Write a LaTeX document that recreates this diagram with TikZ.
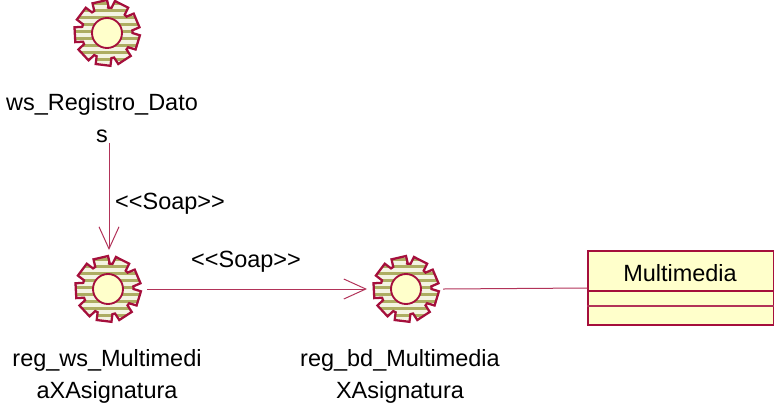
\documentclass[tikz,border=0pt]{standalone}
\usepackage{fontspec}
\setmainfont{Liberation Sans}
\usetikzlibrary{arrows.meta,calc}
\definecolor{umlred}{HTML}{A50F3C}
\definecolor{umlcream}{HTML}{FFFFCB}
\definecolor{umlolive}{HTML}{ADAD62}
\definecolor{stripelight}{HTML}{F4F4E2}
\newcommand{\gearoutline}{
  (90:25.5)
  \foreach \a in {103,143,183,223,263,303,343,23,63}{
    -- (\a-17:25.5) -- (\a-13:33) -- (\a+13:33) -- (\a+17:25.5)
  } -- cycle}
\tikzset{
  x=0.75pt,y=-0.75pt,
  gearspot/.style={circle,minimum size=58.5pt,inner sep=0pt,outer sep=0pt},
  conn/.style={draw=umlred!85!white,line width=0.75pt},
  soap/.style={conn,-{Straight Barb[length=16.5pt,width=15pt,line width=0.75pt]}},
  txt/.style={font=\fontsize{17.6pt}{24pt}\selectfont,align=center,inner sep=0pt,text=black},
  classbox/.style={draw=umlred,fill=umlcream,line width=1pt,minimum width=139.5pt,minimum height=55.5pt,inner sep=0pt},
  gearedge/.style={draw=umlred,line width=1.7pt,line join=miter},
  pics/gear/.style={code={
    \begin{scope}[x=0.75pt,y=0.75pt]
      \begin{scope}
        \path[clip] \gearoutline;
        \fill[stripelight] (-40,-40) rectangle (40,40);
        \foreach \s in {-35,-28,...,35}{\fill[umlolive] (-40,\s) rectangle (40,\s+3.4);}
      \end{scope}
      \path[gearedge] \gearoutline;
      \draw[umlred,line width=1.4pt,fill=umlcream] (0,0) circle (15);
    \end{scope}
  }}
}
\begin{document}
\begin{tikzpicture}
\useasboundingbox (0,0) rectangle (774,405);
\node[gearspot] (g1) at (107,33) {};
\node[gearspot] (g2) at (108,289) {};
\node[gearspot] (g3) at (406,289) {};
\pic at (g1) {gear};
\pic at (g2) {gear};
\pic at (g3) {gear};
\node[txt,anchor=north] (l1) at (102,93) {ws\_Registro\_Dato\\s};
\node[txt,anchor=north] (l2) at (107,349) {reg\_ws\_Multimedi\\aXAsignatura};
\node[txt,anchor=north] (l3) at (400,349) {reg\_bd\_Multimedia\\XAsignatura};
\node[txt] (s1) at (170,204) {{<}{<}Soap{>}{>}};
\node[txt] (s2) at (246,262) {{<}{<}Soap{>}{>}};
\node[classbox] (cls) at (681,288) {};
\node[txt] (clsname) at (680,273) {Multimedia};
\draw[umlred,line width=1.3pt] ($(cls.west)+(0,3)$) -- ($(cls.east)+(0,3)$);
\draw[umlred!85!white,line width=0.9pt] ($(cls.west)+(0,18)$) -- ($(cls.east)+(0,18)$);
\draw[soap] (l1.south -| g2.north) ++(1,0) -- ($(g2.north)+(1,0)$);
\draw[soap] (g2.east) -- (g3.west);
\draw[conn] ($(g3.east)+(-2,0)$) -- (cls.west);
\end{tikzpicture}
\end{document}
